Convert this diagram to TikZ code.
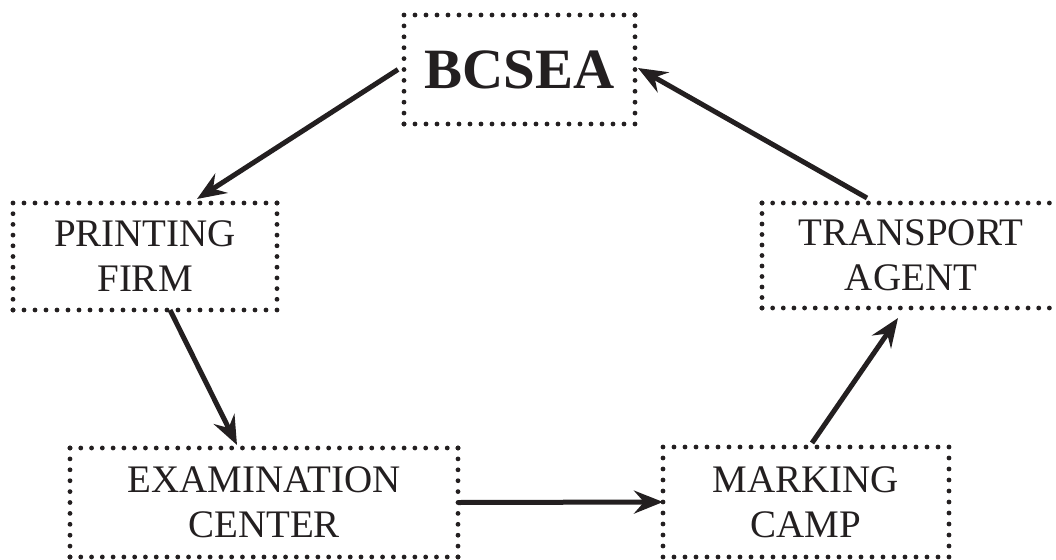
\documentclass[tikz,border=0pt]{standalone}
\usepackage{fontspec}
\setmainfont{Liberation Serif}
\usetikzlibrary{arrows.meta,calc}
\definecolor{ink}{HTML}{231F20}
\tikzset{
  box/.style={rectangle, draw=none, outer sep=0pt, inner sep=0pt, align=center,
    text=ink, font=\fontsize{39}{45}\selectfont},
  dotline/.style={draw=ink, line width=4.8pt, line cap=round},
  flow/.style={draw=ink, line width=5pt, -{Stealth[length=29pt,width=23pt,inset=10pt]}},
}
\newcommand\dotframe[1]{%
  \pgfpointanchor{#1}{north west}\pgfgetlastxy\dfxa\dfya
  \pgfpointanchor{#1}{south east}\pgfgetlastxy\dfxb\dfyb
  \pgfmathsetmacro\dfw{abs(\dfxb-\dfxa)}%
  \pgfmathsetmacro\dfh{abs(\dfyb-\dfya)}%
  \pgfmathsetmacro\dsx{\dfw/max(1,round(\dfw/10.8))}%
  \pgfmathsetmacro\dsy{\dfh/max(1,round(\dfh/10.8))}%
  \draw[dotline, dash pattern=on 0pt off \dsx pt]
    (#1.north east) -- (#1.north west) (#1.south west) -- (#1.south east);
  \draw[dotline, dash pattern=on 0pt off \dsy pt]
    (#1.north west) -- (#1.south west) (#1.south east) -- (#1.north east);
}
\begin{document}
\begin{tikzpicture}[x=1pt,y=-1pt]
\useasboundingbox (0,0) rectangle (1056,559);
\node[box, minimum width=231pt, minimum height=109pt,
  font=\fontsize{57}{60}\selectfont\bfseries] (bcsea) at (519.5,69.5) {BCSEA};
\node[box, minimum width=264pt, minimum height=107pt] (print) at (145,256.5) {PRINTING\\FIRM};
\node[box, minimum width=298pt, minimum height=105pt] (trans) at (911,255.5) {TRANSPORT\\AGENT};
\node[box, minimum width=388pt, minimum height=109pt] (exam) at (264,502.5) {EXAMINATION\\CENTER};
\node[box, minimum width=286pt, minimum height=110pt] (mark) at (806,502) {MARKING\\CAMP};
\dotframe{bcsea}
\dotframe{print}
\dotframe{trans}
\dotframe{exam}
\dotframe{mark}
\draw[flow] ($(bcsea.west)+(-6,0)$) -- ($(print.north)+(52,-4)$);
\draw[flow] ($(print.south)+(25,0)$) -- ($(exam.north)+(-27,-3)$);
\draw[flow] (exam.east) -- (mark.west);
\draw[flow] ($(mark.north)+(6,-4)$) -- ($(trans.south)+(-13,10)$);
\draw[flow] ($(trans.north)+(-44,-5)$) -- ($(bcsea.east)+(3,-1.5)$);
\end{tikzpicture}
\end{document}
